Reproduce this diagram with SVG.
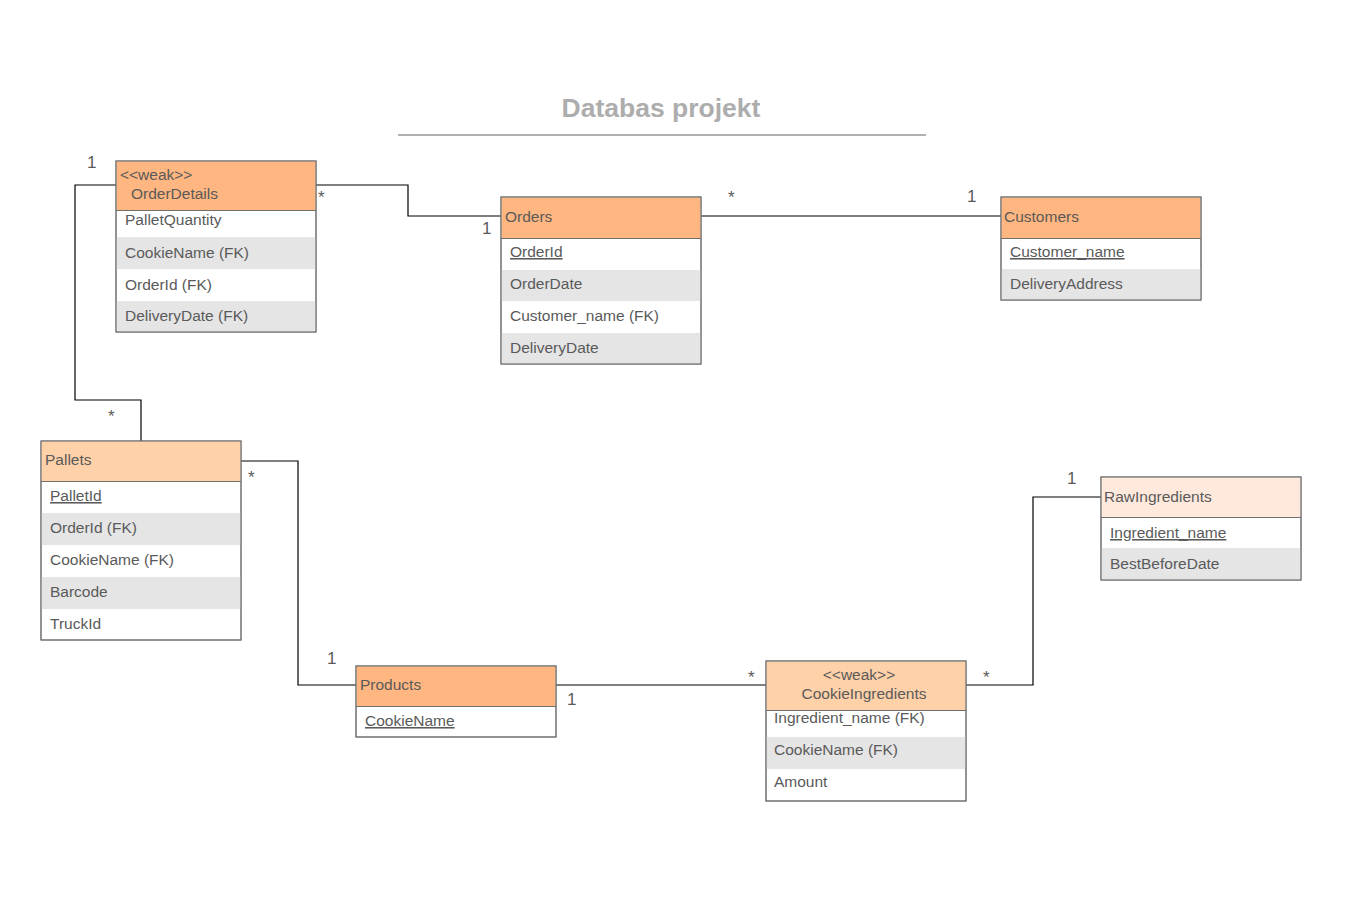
<svg xmlns="http://www.w3.org/2000/svg" width="1363" height="924" viewBox="0 0 1363 924">
<style>
text{font-family:"Liberation Sans",Arial,sans-serif;fill:#5a5a5a;font-size:15.5px}
.box{fill:#fff;stroke:#6f6f6f;stroke-width:1}
.h1{fill:#FFB680}
.h2{fill:#FFD1A9}
.h3{fill:#FFE9DC}
.g{fill:#E5E5E5}
.hl{stroke:#6f6f6f;stroke-width:1}
.u{text-decoration:underline}
.card{font-size:17px;fill:#5a5a5a}
.conn{fill:none;stroke:#000;stroke-width:1.2}
.title{font-size:26.5px;font-weight:bold;fill:#ADADAD}
</style>
<rect width="1363" height="924" fill="#fff"/>
<text class="title" x="661" y="117" text-anchor="middle">Databas projekt</text>
<line x1="398" y1="135" x2="926" y2="135" stroke="#B0B0B0" stroke-width="2"/>

<g id="connectors">
<polyline class="conn" points="116,185 75,185 75,400 141,400 141,441"/>
<polyline class="conn" points="316,185 408,185 408,216 501,216"/>
<polyline class="conn" points="701,216 1001,216"/>
<polyline class="conn" points="241,461 298,461 298,685 356,685"/>
<polyline class="conn" points="556,685 766,685"/>
<polyline class="conn" points="966,685 1033,685 1033,497 1101,497"/>
<text class="card" x="87" y="168">1</text>
<text class="card" x="108" y="422">*</text>
<text class="card" x="318" y="203">*</text>
<text class="card" x="482" y="234">1</text>
<text class="card" x="728" y="203">*</text>
<text class="card" x="967" y="202">1</text>
<text class="card" x="248" y="483">*</text>
<text class="card" x="327" y="664">1</text>
<text class="card" x="567" y="705">1</text>
<text class="card" x="748" y="683">*</text>
<text class="card" x="983" y="683">*</text>
<text class="card" x="1067" y="484">1</text>
</g>

<g id="OrderDetails">
<rect class="box" x="116" y="161" width="200" height="171"/>
<rect class="h1" x="116.5" y="161.5" width="199" height="49"/>
<rect class="g" x="116.5" y="237" width="199" height="32"/>
<rect class="g" x="116.5" y="301" width="199" height="30.5"/>
<rect x="116" y="161" width="200" height="171" fill="none" stroke="#6f6f6f"/>
<line class="hl" x1="116" y1="210.5" x2="316" y2="210.5"/>
<text x="120" y="180">&lt;&lt;weak&gt;&gt;</text>
<text x="131" y="199">OrderDetails</text>
<text x="125" y="225">PalletQuantity</text>
<text x="125" y="258">CookieName (FK)</text>
<text x="125" y="290">OrderId (FK)</text>
<text x="125" y="321">DeliveryDate (FK)</text>
</g>

<g id="Orders">
<rect class="box" x="501" y="197" width="200" height="167"/>
<rect class="h1" x="501.5" y="197.5" width="199" height="41"/>
<rect class="g" x="501.5" y="270" width="199" height="31"/>
<rect class="g" x="501.5" y="333" width="199" height="30.5"/>
<rect x="501" y="197" width="200" height="167" fill="none" stroke="#6f6f6f"/>
<line class="hl" x1="501" y1="238.5" x2="701" y2="238.5"/>
<text x="505" y="222">Orders</text>
<text class="u" x="510" y="257">OrderId</text>
<text x="510" y="289">OrderDate</text>
<text x="510" y="321">Customer_name (FK)</text>
<text x="510" y="353">DeliveryDate</text>
</g>

<g id="Customers">
<rect class="box" x="1001" y="197" width="200" height="103"/>
<rect class="h1" x="1001.5" y="197.5" width="199" height="41"/>
<rect class="g" x="1001.5" y="269" width="199" height="30.5"/>
<rect x="1001" y="197" width="200" height="103" fill="none" stroke="#6f6f6f"/>
<line class="hl" x1="1001" y1="238.5" x2="1201" y2="238.5"/>
<text x="1004" y="222">Customers</text>
<text class="u" x="1010" y="257">Customer_name</text>
<text x="1010" y="289">DeliveryAddress</text>
</g>

<g id="Pallets">
<rect class="box" x="41" y="441" width="200" height="199"/>
<rect class="h2" x="41.5" y="441.5" width="199" height="40"/>
<rect class="g" x="41.5" y="513" width="199" height="32"/>
<rect class="g" x="41.5" y="577" width="199" height="32"/>
<rect x="41" y="441" width="200" height="199" fill="none" stroke="#6f6f6f"/>
<line class="hl" x1="41" y1="481.5" x2="241" y2="481.5"/>
<text x="45" y="465">Pallets</text>
<text class="u" x="50" y="501">PalletId</text>
<text x="50" y="533">OrderId (FK)</text>
<text x="50" y="565">CookieName (FK)</text>
<text x="50" y="597">Barcode</text>
<text x="50" y="629">TruckId</text>
</g>

<g id="Products">
<rect class="box" x="356" y="666" width="200" height="71"/>
<rect class="h1" x="356.5" y="666.5" width="199" height="40"/>
<rect x="356" y="666" width="200" height="71" fill="none" stroke="#6f6f6f"/>
<line class="hl" x1="356" y1="706.5" x2="556" y2="706.5"/>
<text x="360" y="690">Products</text>
<text class="u" x="365" y="726">CookieName</text>
</g>

<g id="CookieIngredients">
<rect class="box" x="766" y="661" width="200" height="140"/>
<rect class="h2" x="766.5" y="661.5" width="199" height="49"/>
<rect class="g" x="766.5" y="737" width="199" height="32"/>
<rect x="766" y="661" width="200" height="140" fill="none" stroke="#6f6f6f"/>
<line class="hl" x1="766" y1="710.5" x2="966" y2="710.5"/>
<text x="859" y="680" text-anchor="middle">&lt;&lt;weak&gt;&gt;</text>
<text x="864" y="699" text-anchor="middle">CookieIngredients</text>
<text x="774" y="723">Ingredient_name (FK)</text>
<text x="774" y="755">CookieName (FK)</text>
<text x="774" y="787">Amount</text>
</g>

<g id="RawIngredients">
<rect class="box" x="1101" y="477" width="200" height="103"/>
<rect class="h3" x="1101.5" y="477.5" width="199" height="40"/>
<rect class="g" x="1101.5" y="548" width="199" height="31.5"/>
<rect x="1101" y="477" width="200" height="103" fill="none" stroke="#6f6f6f"/>
<line class="hl" x1="1101" y1="517.5" x2="1301" y2="517.5"/>
<text x="1104" y="502">RawIngredients</text>
<text class="u" x="1110" y="538">Ingredient_name</text>
<text x="1110" y="569">BestBeforeDate</text>
</g>
</svg>
